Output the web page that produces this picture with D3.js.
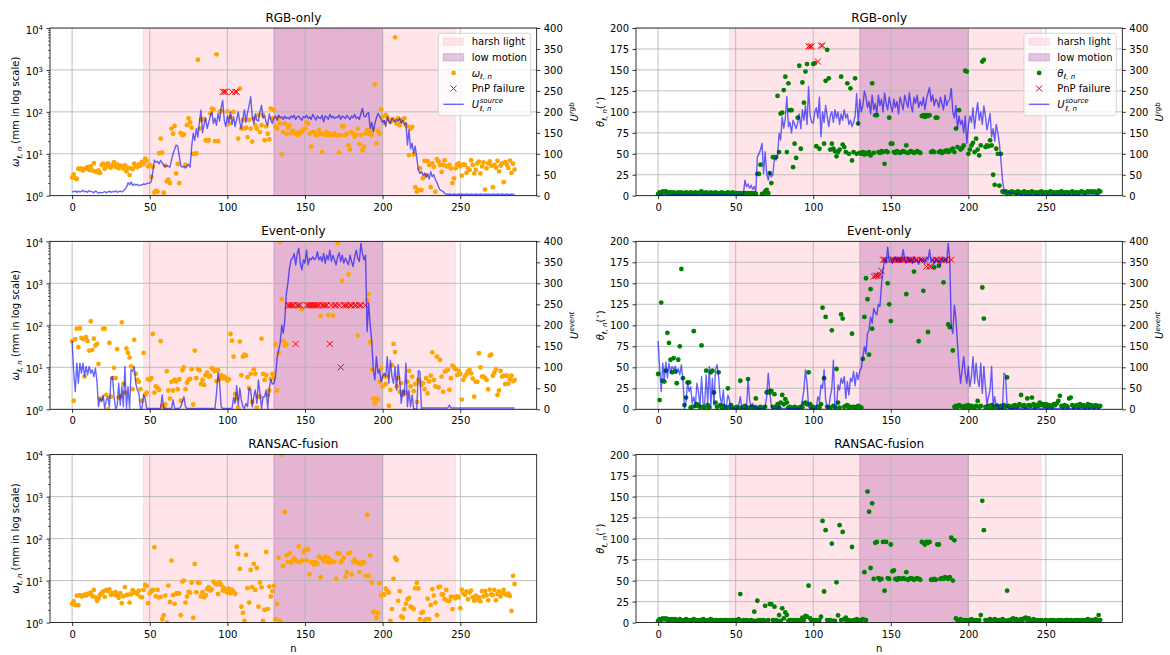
<!DOCTYPE html>
<html>
<head>
<meta charset="utf-8">
<script src="https://cdn.jsdelivr.net/npm/d3@7"></script>
<style>
  body { margin: 0; background: #fff; }
  svg text { font-family: "DejaVu Sans", sans-serif; fill: #000; }
</style>
</head>
<body>
<svg id="fig" width="1170" height="655"></svg>
<script>
// ---------- data (frame index n = array position) ----------
const harshLight = [46, 247];
const lowMotion = [130, 200];
const nTicks = [0, 50, 100, 150, 200, 250];
const omegaTicks = [1, 10, 100, 1000, 10000];
const thetaTicks = [0, 25, 50, 75, 100, 125, 150, 175, 200];
const uTicks = [0, 50, 100, 150, 200, 250, 300, 350, 400];

// RGB-only: translation error (mm) and its uncertainty
const rgbOmega = [2.7,3.2,2.6,2.5,4.4,4.3,4.5,4.0,4.3,4.6,
4.8,4.1,5.0,4.0,6.0,3.8,3.7,4.0,3.5,5.4,
5.8,4.4,5.3,5.9,4.8,4.7,5.5,6.3,4.9,5.6,
4.5,5.2,5.0,4.4,5.3,3.8,4.6,3.1,4.5,4.3,
5.8,5.1,4.8,5.6,5.2,6.4,5.8,7.6,6.9,5.0,
5.4,2.8,4.9,1.2,1.3,1.25,10.3,23,10.6,1.18,
5.2,2.2,2.4,2.0,40,30,46,3.4,5.7,2.0,
31,28,29,5.4,48,70,56,42,10,10,
10.2,1750,40,64,67,67,21,21,21,92,
120,115,20,2350,20,100,105,null,null,null,
102,52,76,null,100,null,null,23,360,40,
64,40,42,25,64,40,19.5,70,48,40,
84,33,48,84,21,45,30,22,120,70,
110,45,40,70,53,9.7,33,53,30,42,
48,30.6,35,33,30,28,33,30.6,34,37,
40,55,53,30,14.7,33,33,28,28,37,
30,11,30,28,33,28,30,28,28,30,
28,28,10.8,28,45,45,28,30,16,12.7,
33,30,25.5,28,40,17,28,12,14.7,30,
37,30,33,28,40,452,17.7,35,30,115,
76,55,84,76,66,58,61,66,6000,53,
70,48,58,66,70,48,45,9.3,40,44,
9.6,1.6,1.25,1.36,4.5,1.36,2.6,6.8,3.1,6.7,
5.4,1.6,5.9,4.9,1.25,7.4,6.5,5.4,3.7,5.4,
7,5.1,5,5.4,4.5,2.0,2.6,4.5,5.6,5.9,
5,3.0,5.6,5.4,3.5,4.5,4.1,7,5.4,3.4,
4.1,5.9,6.5,3.4,5,6.2,1.4,4.5,5.9,6.6,
5.2,1.6,5.4,4.7,6.8,3.8,5.2,5.9,2.1,6.3,
5.4,4.6,6.9,3.5,5.8,4.2];

const rgbUOmega = [10,9,12,8,11,9,10,13,9,11,
8,12,10,9,7,11,9,6,8,7,
8,10,7,9,11,8,10,9,12,8,
10,11,9,12,15,20,31,26,33,24,
28,25,27,24,25,26,28,27,29,30,
30,34,58,85,80,82,76,84,78,73,
69,72,70,68,85,100,110,121,118,95,
72,68,70,66,71,75,68,117,149,132,
160,140,175,204,150,170,185,160,175,190,
200,172,185,168,195,178,210,228,180,165,
190,175,200,170,188,165,182,200,175,160,
185,205,175,198,215,236,190,172,195,180,
178,200,216,185,190,175,168,195,180,172,
185,190,180,192,186,188,182,190,184,187,
183,190,186,192,182,188,190,184,180,189,
186,192,184,188,182,194,188,180,190,186,
184,192,176,190,188,182,194,186,190,184,
188,186,192,182,190,188,184,192,186,182,
190,186,194,184,188,182,196,208,190,188,
196,198,160,175,153,172,185,196,190,182,
175,180,165,188,178,172,185,180,176,182,
178,185,174,180,170,175,121,157,112,125,
101,118,90,61,53,58,48,54,44,52,
40,57,46,50,38,32,21,14,12,10,
5,4,3,4,3,3,4,3,3,4,
3,4,3,3,4,3,3,4,3,3,
4,3,3,4,3,3,4,3,4,3,
3,4,3,3,4,3,3,4,3,3,
4,3,3,4,3,3];

// RGB-only: rotation error (deg) and its uncertainty
const rgbTheta = [2,4,3,5,4,5,3,4,4,3,
4,3,3,4,3,4,3,3,4,3,
3,4,3,3,4,3,3,4,5,3,
3,4,3,3,4,3,3,4,3,3,
3,4,3,3,3,4,3,3,4,3,
3,3,2,3,2,3,3,2,3,2,
3,2,3,2,26,26,37,2,2,5,
7,3,27,15,46,46,46,119,52,98,
99,126,142,52,134,102,102,34,62,45,
93,155,56,135,111,148,157,null,null,null,
157,158,59,null,56,null,null,62,137,174,
140,55,62,56,53,47,52,55,142,61,
58,52,134,50,128,42,52,140,50,86,
51,50,52,49,51,50,52,48,134,51,
96,96,52,51,53,52,38,53,52,93,
62,62,52,51,53,52,51,52,53,52,
60,51,52,53,52,51,52,53,52,51,
95,96,94,96,95,96,52,53,52,93,
93,52,53,51,52,53,54,52,53,55,
56,52,80,58,102,55,57,60,149,148,
50,55,60,63,52,68,55,48,60,160,
162,58,60,59,66,60,25,13,56,50,
12,50,5,4,5,3,4,3,5,4,
4,3,5,4,3,4,5,3,4,4,
3,5,4,3,4,3,4,5,3,4,
4,3,4,5,3,4,3,4,4,3,
5,4,3,4,4,3,4,5,3,4,
4,3,4,5,4,3,4,5,4,5,
4,5,4,3,6,5];

const rgbUTheta = [2,1,2,1,2,2,1,2,1,2,
1,2,2,1,2,1,2,2,1,2,
2,1,2,1,2,2,1,2,2,1,
2,1,2,2,1,2,1,2,2,1,
2,2,1,2,1,2,2,1,2,2,
1,2,2,3,3,4,37,21,28,18,
25,15,22,10,93,99,110,125,53,105,
53,37,57,45,50,90,85,95,149,133,
188,161,184,236,165,175,150,180,170,160,
175,195,160,205,180,215,170,260,190,175,
173,200,210,185,235,140,200,175,215,190,
165,190,200,175,205,185,200,170,195,180,
205,185,195,170,180,165,175,190,244,170,
230,200,215,250,235,210,225,195,240,205,
220,195,240,215,230,200,245,220,205,235,
215,200,230,210,225,195,235,220,205,240,
225,210,245,215,200,235,220,240,210,225,
215,235,205,230,245,258,225,240,215,230,
225,210,235,220,205,240,215,225,230,256,
200,185,215,159,190,170,180,150,190,125,
165,190,175,210,160,195,222,180,200,170,
214,190,157,175,196,140,160,130,170,150,
125,85,37,13,9,8,9,7,6,6,
5,5,4,3,2,2,2,2,1,1,
1,2,1,1,2,1,1,2,1,1,
2,1,1,2,1,1,2,1,1,2,
1,1,2,1,1,2,1,1,2,1,
1,2,1,1,2,1,1,2,1,1,
2,1,1,2,1,1];

const rgbFailN = [97, 98, 99, 103, 105, 106];
const rgbFailOmega = [300, 300, 300, 300, 300, 300];
const rgbFailTheta = [178, 178, 178, 160, 179, 179];

// Event-only
const evOmega = [42,1.6,47,83,30,85,50,47,6,52,
42,25,125,26,48,33,36,12,1.8,1.8,
83,83,2.2,1.0,38,2,5.5,9.7,5.5,27,
1.9,2,118,4,2.5,28,22,17,10.5,3,
45,7,5,4.5,3,1.6,22,2.2,2.5,5.2,
5,5.5,62,2.5,3.5,3.2,2.9,42,1.2,1.1,
1.3,8,2.8,1.8,4.5,2.8,5,4.6,3,5.2,
1.6,8.5,10,3,4.3,5,5.3,9,1.3,25,
5.5,9,8.5,4,5,3.8,6.5,7.5,6,6.2,
9.5,9,8,4.7,8.5,5.2,6.5,5.5,6,5.5,
4.8,5.2,62,43,18,2.3,1.8,1.1,41,6.5,
18,20,19,5.8,3.2,7,1.5,9,7,1.1,
2,2,48,7,5,6.5,2.2,2.8,5.3,7,
5.5,35,2.8,22,9800,420,42,33,35,null,
null,null,null,null,null,null,null,null,240,null,
null,null,null,null,null,null,null,null,null,null,
166,null,null,null,null,176,null,null,170,null,
null,9100,null,null,1160,null,null,null,1620,null,
null,null,null,null,57,null,null,null,null,null,
400,560,39,8.9,1.8,1.4,1.8,1.7,4.5,9.5,
3.5,6,4,6,1.2,2.9,11.3,36,23,3.5,
5.5,2.6,4.2,2.2,2.6,2.4,4.5,8.2,3.5,6,
2.7,4,1.5,5,4.5,3.8,4.2,3,5.5,2.4,
4.6,6.3,22.7,5,3.5,18,3.3,15,6,2.6,
7.9,8.2,8.7,2.9,5.5,11,10,9,6.5,8.2,
7,1.7,5,6,6.8,8,8.7,7.2,5.4,2,
4.5,4.5,21.6,10,6,6,5.6,5,3,19,
20,6.3,7.5,9,2.2,2.8,8.2,6,6.3,4,
6.3,4.1,5.2,6.3,4.7,5];

const evUOmega = [163,90,42,110,62,110,86,110,78,102,
82,102,86,94,78,98,66,6,26,18,
34,2,22,30,6,74,78,30,2,6,
62,10,54,6,102,2,54,2,94,90,
102,62,46,38,2,3,34,26,3,2,
2,2,2,2,2,2,2,2,34,3,
2,2,2,2,2,22,2,2,2,2,
6,18,30,6,2,2,2,2,2,2,
2,2,2,2,2,2,2,2,2,2,
2,2,2,38,87,62,6,2,2,2,
2,2,2,2,28,14,56,10,50,22,
6,2,14,6,50,46,6,30,46,14,
70,38,2,30,30,46,2,50,71,60,
62,78,121,141,157,200,181,213,276,300,
336,356,360,371,344,371,383,348,332,356,
348,379,344,360,356,363,356,360,375,356,
363,352,371,348,367,356,379,352,367,356,
344,363,373,352,367,348,360,352,344,367,
352,340,363,379,360,352,395,371,356,367,
185,252,201,161,94,70,125,86,94,66,
78,86,78,125,62,117,78,62,102,46,
106,70,14,46,34,110,6,46,6,34,
2,1,0,92,90,2,3,3,3,3,
3,3,3,3,3,3,3,3,3,3,
3,3,3,10,3,3,3,3,3,3,
3,3,3,3,3,3,3,3,3,3,
3,3,3,3,3,3,3,3,3,3,
3,3,3,3,3,3,3,3,3,3,
3,3,3,3,3,3];

const evTheta = [42,11,127,34,33,46,91,79,59,44,
61,45,31,59,75,167,37,5,14,32,
32,2,3,93,4,6,4,3,76,3,
2,46,5,2,44,46,20,8,3,44,
5,2,4,3,2,25,3,5,2,1,
2,3,1,34,2,3,4,2,36,2,
3,2,2,13,1,2,3,1,2,3,
20,21,20,22,3,18,3,6,2,8,
17,6,12,8,2,3,1,2,3,2,
1,2,3,2,7,8,6,44,6,2,
3,1,2,3,2,6,121,37,110,3,
2,2,94,4,2,48,8,2,113,108,
3,4,5,2,3,90,3,2,3,4,
3,2,60,110,156,131,65,143,96,null,
null,null,null,null,null,null,null,null,150,125,
105,null,null,null,null,null,null,null,null,null,
137,null,null,null,null,164,null,null,81,null,
null,141,null,null,92,null,null,null,169,null,
null,171,null,null,151,null,null,101,98,null,
70,3,4,3,5,4,3,2,4,3,
5,3,4,3,2,4,10,3,4,145,
108,3,2,4,3,5,2,3,4,2,
3,4,2,5,3,38,4,3,2,4,
5,3,4,6,17,4,5,3,13,5,
4,14,6,3,5,4,8,5,6,4,
6,3,5,4,3,6,5,7,10,16,
4,3,5,4,3,13,14,5,3,4,
5,3,6,4,5,3,4,6,3,5,
4,3,5,4,3,4];

const evUTheta = [163,98,42,110,70,113,74,110,86,102,
94,103,86,97,82,106,70,2,18,66,
42,54,14,30,6,62,42,6,78,14,
10,82,14,102,6,74,10,94,106,78,
30,10,46,2,6,34,22,2,2,2,
2,2,10,30,2,2,2,2,70,22,
6,14,2,10,2,2,2,2,2,6,
30,86,42,6,2,2,2,2,10,2,
2,2,2,2,2,2,2,2,2,2,
2,2,2,22,46,94,62,6,2,2,
2,2,2,30,18,58,50,94,22,6,
2,30,50,117,6,2,58,46,74,62,
78,26,66,34,74,66,90,56,87,71,
92,98,125,149,133,181,189,220,205,240,
230,225,250,245,296,332,356,348,386,352,
360,347,356,363,352,360,350,358,380,356,
348,362,350,358,347,363,352,356,345,360,
352,357,348,362,355,380,350,358,346,360,
350,356,344,362,352,358,348,395,358,197,
181,248,213,157,102,62,94,125,86,62,
102,54,78,125,62,110,70,54,110,38,
102,54,10,30,46,102,6,30,6,14,
0,2,2,86,82,6,2,2,2,2,
2,2,2,2,2,2,2,2,2,2,
2,2,2,2,2,2,2,2,2,2,
2,2,2,2,2,2,2,2,2,2,
2,2,2,2,2,2,2,2,2,2,
2,2,2,2,2,2,2,2,2,2,
2,2,2,2,2,2];

const evFailN = [139,140,141,142,143,144,145,146,147,
151,152,153,154,155,156,157,158,159,
161,162,163,164,166,167,169,170,172,173,
175,176,177,179,180,182,183,185,186,189];
const evFailOmega = [300,300,300,300,300,36,300,300,300,
300,300,300,300,300,300,300,300,300,
300,300,300,300,36,300,300,300,300,10,
300,300,300,300,300,300,300,300,300,300];
const evFailTheta = [158,159,159,159,160,165,178,178,178,
178,178,178,178,178,178,178,178,178,
178,178,178,178,178,178,178,178,178,170,
170,170,178,178,178,178,178,178,178,178];

// RANSAC-fusion
const fusOmega = [2.8,3.2,2.6,4.4,2.6,4.5,4.2,4.3,4.6,4.4,
4.8,4.9,5.2,4.3,6.0,4.0,3.3,3.8,4.6,5.0,
5.5,4.1,6.0,5.6,6.2,4.6,5.0,4.7,5.3,4.4,
3.9,5.0,2.9,4.2,7.0,4.5,4.6,3.0,4.7,5.9,
5.3,5.1,4.8,5.8,4.1,4.0,6.0,7.9,7.5,2.9,
5.0,5.6,6.0,62,4.2,6.0,4.0,4.1,1.2,1.5,
4.4,1.0,7.6,3.1,30,4.5,2.8,4.9,5.0,4.9,
1.5,9.5,10,3.0,4.2,5.4,5.2,9.0,1.3,25,
5.3,9.0,8.8,4.2,5.3,4.0,4.5,6.3,7.0,5.8,
6.2,9.5,8.7,8.1,4.8,9.0,7.8,5.8,6.6,5.6,
5.2,6.4,5.0,6.0,5.4,4.8,64,43,19,2.4,
1.7,1.1,41,6.6,3.0,18,7.0,25,6.0,20,
2.4,9.0,6.9,1.1,2.0,48,2.1,7.2,4.2,5.6,
7.5,1.2,2.8,35,1.1,10000,22,430,40,28,
45,27,30,34,32,28,65,28,30,47,
54,30,55,14,27,27,24,27,25,37,
12,34,29,37,28,35,27,30,28,28,
11,45,45,27,30,35,12.5,16,45,46,
14,28,32,28,26,16,25,28,27,13,
365,13,40,9,1.8,1.8,1.3,1.7,8.7,4.5,
4.6,4.6,6.4,5.8,5.2,1.1,2.1,11,35,31,
3.3,5.6,1.4,1.3,2.1,2.8,3.6,3.9,2.4,2.3,
2.1,6.6,8.8,6.5,1.2,1.7,1.8,1.1,1.2,3.7,
1.2,2.6,6.3,4.4,3.0,1.5,6.9,7.2,4.7,4.6,
3.6,6.0,3.3,3.3,4.1,2.1,4.1,3.8,4.2,4.0,
2.2,6.1,4.9,4.6,5.5,3.6,5.2,5.8,4.0,3.3,
4.4,3.5,4.0,3.2,5.6,4.2,5.6,4.5,3.4,6.1,
4.7,4.5,6.0,3.4,4.8,5.5,4.2,5.2,6.0,4.8,
4.5,4.9,4.3,1.9,13,8.3];

const fusTheta = [2,4,3,5,4,5,3,4,3,4,
3,4,3,3,4,3,2,3,4,3,
3,2,3,4,3,3,2,3,3,4,
3,2,3,3,4,3,2,3,3,2,
3,3,2,3,3,2,3,2,3,2,
3,3,4,34,2,3,2,3,2,2,
3,2,13,2,26,3,3,2,3,20,
2,3,22,22,3,19,3,2,9,2,
17,5,12,9,2,3,3,2,3,2,
3,2,3,6,3,8,7,44,5,2,
3,2,3,2,3,7,121,37,110,3,
2,3,94,2,2,48,8.5,116,3,108,
4,6,2,3,2,90,3,2,4,3,
2,3,4,60,3,156,132,65,142,52,
95,96,53,51,52,96,38,96,53,52,
93,61,62,52,51,53,52,52,53,52,
60,51,52,53,52,51,52,53,52,51,
96,95,93,96,95,96,51,51,52,51,
93,93,52,53,52,54,53,52,54,101,
50,98,5,3,2,4,3,2,3,2,
3,2,4,3,2,3,2,3,9,145,
110,3,2,3,4,2,3,4,3,2,
3,2,4,3,2,38,3,2,4,5,
3,4,2,3,4,3,5,6,3,5,
3,2,4,3,2,3,2,3,2,2,
3,2,2,3,2,3,2,2,3,2,
3,2,2,3,3,2,3,2,2,3,
2,3,2,3,3,2,3,4,2,3,
3,2,4,3,9,3];

// ---------- drawing ----------
const PINK = "#ffc0cb", PURPLE = "#800080", ORANGE = "#ffa500",
      GREEN = "#008000", RED = "#ff0000", LINE_BLUE = "#0000ff", GRID = "#b0b0b0";
const svg = d3.select("#fig");
const defs = svg.append("defs");
const N_DOMAIN = [-14.25, 299.25];
const COLS = [[50, 536.7], [636, 1122.3]];
const ROWS = [[28, 195.7], [241.3, 409.3], [454.6, 622.6]];
let clipCount = 0;

// text made of plain / superscript / subscript runs
function richText(sel, parts, size) {
  let shift = 0;
  parts.forEach(([s, mode, italic]) => {
    const target = mode === "sup" ? -size * 0.38 : mode === "sub" ? size * 0.25 : 0;
    const ts = sel.append("tspan").text(s).attr("dy", target - shift)
      .style("font-size", (mode ? size * 0.7 : size) + "px");
    if (italic) ts.style("font-style", "italic");
    shift = target;
  });
  return sel;
}

function drawPanel(cfg) {
  const [x0, x1] = COLS[cfg.col];
  const [y0, y1] = ROWS[cfg.row];
  const xs = d3.scaleLinear().domain(N_DOMAIN).range([x0, x1]);
  const ys = cfg.log
    ? d3.scaleLog().domain([1, 1e4]).range([y1, y0])
    : d3.scaleLinear().domain([0, 200]).range([y1, y0]);
  const yTicks = cfg.log ? omegaTicks : thetaTicks;

  const clipId = "clip" + (clipCount++);
  defs.append("clipPath").attr("id", clipId).append("rect")
    .attr("x", x0).attr("y", y0).attr("width", x1 - x0).attr("height", y1 - y0);

  const g = svg.append("g");
  const plot = g.append("g").attr("clip-path", `url(#${clipId})`);

  // shaded frame ranges
  const spans = [[harshLight, PINK, 0.42], [lowMotion, PURPLE, 0.21]];
  spans.forEach(([r, c, a]) => {
    plot.append("rect")
      .attr("x", xs(r[0])).attr("width", xs(r[1]) - xs(r[0]))
      .attr("y", y0 - 2).attr("height", y1 - y0 + 4)
      .attr("fill", c).attr("fill-opacity", a)
      .attr("stroke", c).attr("stroke-opacity", a).attr("stroke-width", 1);
  });

  // grid
  plot.selectAll("line.gx").data(nTicks).join("line")
    .attr("x1", d => xs(d)).attr("x2", d => xs(d)).attr("y1", y0).attr("y2", y1)
    .attr("stroke", GRID).attr("stroke-width", 0.8);
  plot.selectAll("line.gy").data(yTicks).join("line")
    .attr("x1", x0).attr("x2", x1).attr("y1", d => ys(d)).attr("y2", d => ys(d))
    .attr("stroke", GRID).attr("stroke-width", 0.8);

  // per-frame errors
  const pts = cfg.values.map((v, i) => [i, v]).filter(d => d[1] !== null);
  plot.selectAll("circle.pt").data(pts).join("circle")
    .attr("cx", d => xs(d[0])).attr("cy", d => ys(d[1])).attr("r", 2.4)
    .attr("fill", cfg.color);

  // PnP failures
  if (cfg.failN) {
    const fails = cfg.failN.map((n, i) => [n, cfg.failV[i]]);
    plot.selectAll("path.fail").data(fails).join("path")
      .attr("transform", d => `translate(${xs(d[0])},${ys(d[1])})`)
      .attr("d", "M-3,-3L3,3M-3,3L3,-3")
      .attr("stroke", RED).attr("stroke-width", 1).attr("fill", "none");
  }

  // uncertainty on the twin axis
  let yu = null;
  if (cfg.u) {
    yu = d3.scaleLinear().domain([0, 400]).range([y1, y0]);
    const line = d3.line().x((d, i) => xs(i)).y(d => yu(d));
    plot.append("path").datum(cfg.u).attr("d", line)
      .attr("fill", "none").attr("stroke", LINE_BLUE).attr("stroke-opacity", 0.6)
      .attr("stroke-width", 1.4).attr("stroke-linejoin", "round");
  }

  // frame
  g.append("rect").attr("x", x0).attr("y", y0).attr("width", x1 - x0).attr("height", y1 - y0)
    .attr("fill", "none").attr("stroke", "#000").attr("stroke-width", 0.8);

  // x axis
  const ax = g.append("g").attr("transform", `translate(0,${y1})`)
    .call(d3.axisBottom(xs).tickValues(nTicks).tickSize(3.5).tickSizeOuter(0).tickPadding(3));
  ax.select(".domain").remove();
  ax.selectAll("line").attr("stroke", "#000").attr("stroke-width", 0.8);
  ax.selectAll("text").attr("y", 15).attr("dy", null).style("font-size", "10px")
    .style("font-family", '"DejaVu Sans", sans-serif');

  // y axis
  if (cfg.log) {
    const ayMinor = g.append("g").attr("transform", `translate(${x0},0)`)
      .call(d3.axisLeft(ys).tickValues(
        [1, 10, 100, 1000].flatMap(b => [2, 3, 4, 5, 6, 7, 8, 9].map(k => b * k)))
        .tickSize(2).tickSizeOuter(0).tickFormat(""));
    ayMinor.select(".domain").remove();
    ayMinor.selectAll("line").attr("stroke", "#000").attr("stroke-width", 0.6);
    const ay = g.append("g").attr("transform", `translate(${x0},0)`)
      .call(d3.axisLeft(ys).tickValues(omegaTicks).tickSize(3.5).tickSizeOuter(0).tickFormat(""));
    ay.select(".domain").remove();
    ay.selectAll("line").attr("stroke", "#000").attr("stroke-width", 0.8);
    ay.selectAll(".tick").each(function (d) {
      const t = d3.select(this).append("text").attr("x", -7).attr("y", 5)
        .attr("text-anchor", "end").style("font-size", "10px");
      richText(t, [["10", null], [String(Math.round(Math.log10(d))), "sup"]], 10);
    });
  } else {
    const ay = g.append("g").attr("transform", `translate(${x0},0)`)
      .call(d3.axisLeft(ys).tickValues(thetaTicks).tickSize(3.5).tickSizeOuter(0).tickPadding(3.5));
    ay.select(".domain").remove();
    ay.selectAll("line").attr("stroke", "#000").attr("stroke-width", 0.8);
    ay.selectAll("text").attr("dy", "0.34em").style("font-size", "10px")
      .style("font-family", '"DejaVu Sans", sans-serif');
  }

  if (yu) {
    const ar = g.append("g").attr("transform", `translate(${x1},0)`)
      .call(d3.axisRight(yu).tickValues(uTicks).tickSize(3.5).tickSizeOuter(0).tickPadding(3.5));
    ar.select(".domain").remove();
    ar.selectAll("line").attr("stroke", "#000").attr("stroke-width", 0.8);
    ar.selectAll("text").attr("dy", "0.34em").style("font-size", "10px")
      .style("font-family", '"DejaVu Sans", sans-serif');
    const rl = g.append("text")
      .attr("transform", `translate(${x1 + 41},${(y0 + y1) / 2}) rotate(-90)`)
      .attr("text-anchor", "middle").style("font-size", "10px");
    richText(rl, [["U", null, true], [cfg.uName, "sup", true]], 10);
  }

  // y label
  const yl = g.append("text")
    .attr("transform", `translate(${cfg.log ? x0 - 31 : x0 - 32},${(y0 + y1) / 2}) rotate(-90)`)
    .attr("text-anchor", "middle").style("font-size", "10px");
  if (cfg.log) {
    richText(yl, [["ω", null, true], ["ℓ, n", "sub", true], [" (mm in log scale)", null]], 10);
  } else {
    richText(yl, [["θ", null, true], ["ℓ, n", "sub", true], ["(", null], ["∘", "sup"], [")", null]], 10);
  }

  // title
  g.append("text").attr("x", (x0 + x1) / 2).attr("y", y0 - 6.5)
    .attr("text-anchor", "middle").style("font-size", "12px").text(cfg.title);

  if (cfg.row === 2) {
    g.append("text").attr("x", (x0 + x1) / 2).attr("y", y1 + 29)
      .attr("text-anchor", "middle").style("font-size", "10px").text("n");
  }

  if (cfg.legend) drawLegend(g, x1, y0, cfg);
}

function drawLegend(g, x1, y0, cfg) {
  const lx = x1 - 98.4, ly = y0 + 5.3, w = 92.4, h = 82.4;
  const L = g.append("g");
  L.append("rect").attr("x", lx).attr("y", ly).attr("width", w).attr("height", h)
    .attr("rx", 2.5).attr("fill", "#fff").attr("fill-opacity", 0.8)
    .attr("stroke", "#cccccc").attr("stroke-width", 0.8);
  const hx = lx + 5, hw = 20.5, tx = lx + 33.4;
  const rowY = [8.4, 24, 39.6, 55.2, 71].map(d => ly + d);
  const entries = [
    { kind: "patch", color: PINK, alpha: 0.42, label: [["harsh light", null]] },
    { kind: "patch", color: PURPLE, alpha: 0.21, label: [["low motion", null]] },
    { kind: "dot", label: [[cfg.sym, null, true], ["ℓ, n", "sub", true]] },
    { kind: "x", label: [["PnP failure", null]] },
    { kind: "line", label: null }
  ];
  entries.forEach((e, i) => {
    const cy = rowY[i];
    if (e.kind === "patch") {
      L.append("rect").attr("x", hx).attr("y", cy - 3.6).attr("width", hw).attr("height", 7.2)
        .attr("fill", e.color).attr("fill-opacity", e.alpha)
        .attr("stroke", e.color).attr("stroke-opacity", e.alpha);
    } else if (e.kind === "dot") {
      L.append("circle").attr("cx", hx + hw / 2).attr("cy", cy).attr("r", 2.4).attr("fill", cfg.color);
    } else if (e.kind === "x") {
      L.append("path").attr("transform", `translate(${hx + hw / 2},${cy})`)
        .attr("d", "M-3,-3L3,3M-3,3L3,-3").attr("stroke", RED).attr("fill", "none");
    } else {
      L.append("line").attr("x1", hx).attr("x2", hx + hw).attr("y1", cy).attr("y2", cy)
        .attr("stroke", LINE_BLUE).attr("stroke-opacity", 0.6).attr("stroke-width", 1.4);
    }
    if (e.label) {
      const t = L.append("text").attr("x", tx).attr("y", cy + 3.6).style("font-size", "10px");
      richText(t, e.label, 10);
    } else {
      const u = L.append("text").attr("x", tx).attr("y", cy + 3.6)
        .style("font-size", "10px").style("font-style", "italic").text("U");
      const uw = u.node().getComputedTextLength();
      L.append("text").attr("x", tx + uw + 0.6).attr("y", cy - 1.4)
        .style("font-size", "7px").style("font-style", "italic").text("source");
      L.append("text").attr("x", tx + uw + 0.6).attr("y", cy + 6.4)
        .style("font-size", "7px").style("font-style", "italic").text("ℓ, n");
    }
  });
}

drawPanel({ row: 0, col: 0, log: true, values: rgbOmega, color: ORANGE, failN: rgbFailN, failV: rgbFailOmega,
  u: rgbUOmega, uName: "rgb", title: "RGB-only", legend: true, sym: "ω" });
drawPanel({ row: 0, col: 1, log: false, values: rgbTheta, color: GREEN, failN: rgbFailN, failV: rgbFailTheta,
  u: rgbUTheta, uName: "rgb", title: "RGB-only", legend: true, sym: "θ" });
drawPanel({ row: 1, col: 0, log: true, values: evOmega, color: ORANGE, failN: evFailN, failV: evFailOmega,
  u: evUOmega, uName: "event", title: "Event-only" });
drawPanel({ row: 1, col: 1, log: false, values: evTheta, color: GREEN, failN: evFailN, failV: evFailTheta,
  u: evUTheta, uName: "event", title: "Event-only" });
drawPanel({ row: 2, col: 0, log: true, values: fusOmega, color: ORANGE, title: "RANSAC-fusion" });
drawPanel({ row: 2, col: 1, log: false, values: fusTheta, color: GREEN, title: "RANSAC-fusion" });
</script>
</body>
</html>
